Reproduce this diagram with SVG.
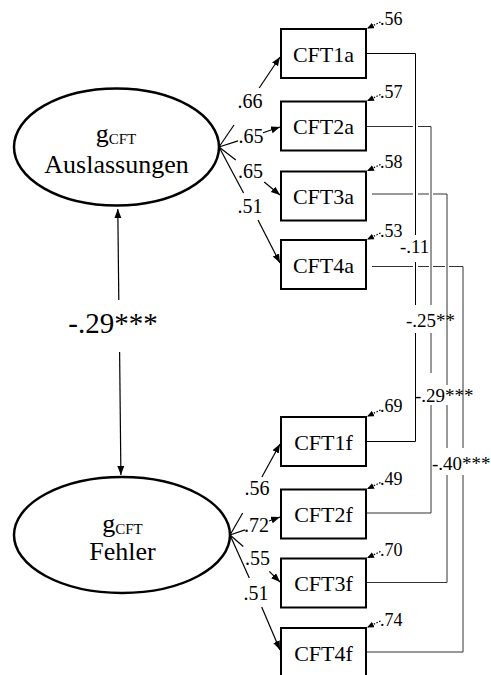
<svg xmlns="http://www.w3.org/2000/svg" width="491" height="675" viewBox="0 0 491 675">
<style>
text{font-family:"Liberation Serif","Times New Roman",serif;fill:#000}
.box{fill:#fff;stroke:#000;stroke-width:2}
.ell{fill:#fff;stroke:#000;stroke-width:2.5}
.bt{font-size:22px;text-anchor:middle}
.lt{font-size:20px;text-anchor:middle}
.rt{font-size:18px}
.ct{font-size:19px}
.ln{fill:none;stroke:#000;stroke-width:1.2}
.cl{fill:none;stroke:#000;stroke-width:1}
.cg{fill:none;stroke:#333;stroke-width:1}
.rs{fill:none;stroke:#000;stroke-width:1.2;stroke-dasharray:1.5 1.5}
</style>
<defs>
<marker id="ah" markerUnits="userSpaceOnUse" markerWidth="10" markerHeight="8" refX="9" refY="3.5" orient="auto"><path d="M0,0 L9,3.5 L0,7 z" fill="#000"/></marker>
<marker id="ahs" markerUnits="userSpaceOnUse" markerWidth="8" markerHeight="7" refX="7" refY="3" orient="auto"><path d="M0,0 L7,3 L0,6 z" fill="#000"/></marker>
<marker id="ahd" markerUnits="userSpaceOnUse" markerWidth="10" markerHeight="8" refX="9" refY="3.5" orient="auto-start-reverse"><path d="M0,0 L9,3.5 L0,7 z" fill="#000"/></marker>
</defs>

<g id="connectors">
<!-- factor correlation -->
<path class="ln" d="M117.8,209 L118.8,300" marker-start="url(#ahd)"/>
<path class="ln" d="M119.6,352 L120.9,475" marker-end="url(#ahd)"/>
<text x="113" y="333" style="font-size:29px;text-anchor:middle">-.29***</text>
<!-- loadings top -->
<path class="ln" d="M219,147 L234,125"/>
<path class="ln" d="M259.2,88 L280,57" marker-end="url(#ah)"/>
<text class="lt" x="250" y="108">.66</text>
<path class="ln" d="M219,147 L238,140.9"/>
<path class="ln" d="M263,132.8 L280,127" marker-end="url(#ah)"/>
<text class="lt" x="251" y="143">.65</text>
<path class="ln" d="M219,147 L235.8,160"/>
<path class="ln" d="M264.2,182 L280,195" marker-end="url(#ah)"/>
<text class="lt" x="250.5" y="178">.65</text>
<path class="ln" d="M219,147 L243.6,193"/>
<path class="ln" d="M258,220 L280,263" marker-end="url(#ah)"/>
<text class="lt" x="250" y="213">.51</text>
<!-- loadings bottom -->
<path class="ln" d="M230,535 L242.7,513"/>
<path class="ln" d="M261.9,477 L280,444" marker-end="url(#ah)"/>
<text class="lt" x="257" y="495">.56</text>
<path class="ln" d="M230,535 L245,529.9"/>
<path class="ln" d="M269,521 L280,517" marker-end="url(#ah)"/>
<text class="lt" x="256.5" y="532">.72</text>
<path class="ln" d="M230,535 L243.3,546.5"/>
<path class="ln" d="M269.3,571.4 L280,582" marker-end="url(#ah)"/>
<text class="lt" x="257.5" y="565">.55</text>
<path class="ln" d="M230,535 L249.3,578"/>
<path class="ln" d="M261.7,607 L280,650" marker-end="url(#ah)"/>
<text class="lt" x="256" y="600">.51</text>
<!-- residual arrows -->
<path class="rs" d="M380.5,22 L367,28.5" marker-end="url(#ahs)"/>
<path class="rs" d="M380.5,94.5 L367,101" marker-end="url(#ahs)"/>
<path class="rs" d="M380.5,164.5 L367,171" marker-end="url(#ahs)"/>
<path class="rs" d="M380.5,233 L367,239.5" marker-end="url(#ahs)"/>
<path class="rs" d="M380.5,410 L367,416.5" marker-end="url(#ahs)"/>
<path class="rs" d="M380.5,482.5 L367,489" marker-end="url(#ahs)"/>
<path class="rs" d="M380.5,551.5 L367,558" marker-end="url(#ahs)"/>
<path class="rs" d="M380.5,621 L367,627.5" marker-end="url(#ahs)"/>
<text class="rt" x="380" y="25">.56</text>
<text class="rt" x="380" y="98">.57</text>
<text class="rt" x="380" y="168">.58</text>
<text class="rt" x="380" y="236.5">.53</text>
<text class="rt" x="380" y="412">.69</text>
<text class="rt" x="380" y="485">.49</text>
<text class="rt" x="380" y="556">.70</text>
<text class="rt" x="380" y="626">.74</text>
<!-- residual correlations -->
<path class="cl" d="M367,53.5 H415.5 V235 M415.5,262 V305 M415.5,333 V441.5 H367"/>
<path class="cg" d="M367,126.5 H413 M418,126.5 H431 V305 M431,333 V373 M431,405 V513 H367"/>
<path class="cg" d="M372,194 H413 M418,194 H429 M433,194 H447 V385 M447,405 V448 M447,475 V582.5 H367"/>
<path class="cg" d="M372,266.5 H413 M418,266.5 H429 M433,266.5 H445 M449,266.5 H463 V448 M463,475 V652 H367"/>
<text class="ct" x="400" y="253">-.11</text>
<text class="ct" x="406" y="327">-.25**</text>
<text class="ct" x="415" y="402">-.29***</text>
<text class="ct" x="432" y="470">-.40***</text>
</g>

<g id="gAus">
<ellipse class="ell" cx="116.5" cy="147" rx="102.5" ry="58.5"/>
<text x="116" y="142" style="font-size:26px;text-anchor:middle">g<tspan dy="2" style="font-size:15px">CFT</tspan></text>
<text x="116.5" y="172.5" style="font-size:26px;text-anchor:middle">Auslassungen</text>
</g>
<g id="gFeh">
<ellipse class="ell" cx="122" cy="535" rx="108" ry="58"/>
<text x="122.5" y="531.5" style="font-size:26px;text-anchor:middle">g<tspan dy="2" style="font-size:15px">CFT</tspan></text>
<text x="122.5" y="560" style="font-size:26px;text-anchor:middle">Fehler</text>
</g>

<g id="CFT1a"><rect class="box" x="281" y="29" width="85" height="49"/><text class="bt" x="323.5" y="61.5">CFT1a</text></g>
<g id="CFT2a"><rect class="box" x="281" y="101.5" width="85" height="49"/><text class="bt" x="323.5" y="134">CFT2a</text></g>
<g id="CFT3a"><rect class="box" x="281" y="171.5" width="85" height="49"/><text class="bt" x="323.5" y="204">CFT3a</text></g>
<g id="CFT4a"><rect class="box" x="281" y="240" width="85" height="49"/><text class="bt" x="323.5" y="272.5">CFT4a</text></g>
<g id="CFT1f"><rect class="box" x="281" y="417" width="85" height="49"/><text class="bt" x="323.5" y="449.5">CFT1f</text></g>
<g id="CFT2f"><rect class="box" x="281" y="489.5" width="85" height="49"/><text class="bt" x="323.5" y="522">CFT2f</text></g>
<g id="CFT3f"><rect class="box" x="281" y="558.5" width="85" height="49"/><text class="bt" x="323.5" y="591">CFT3f</text></g>
<g id="CFT4f"><rect class="box" x="281" y="628" width="85" height="49"/><text class="bt" x="323.5" y="660.5">CFT4f</text></g>
</svg>
